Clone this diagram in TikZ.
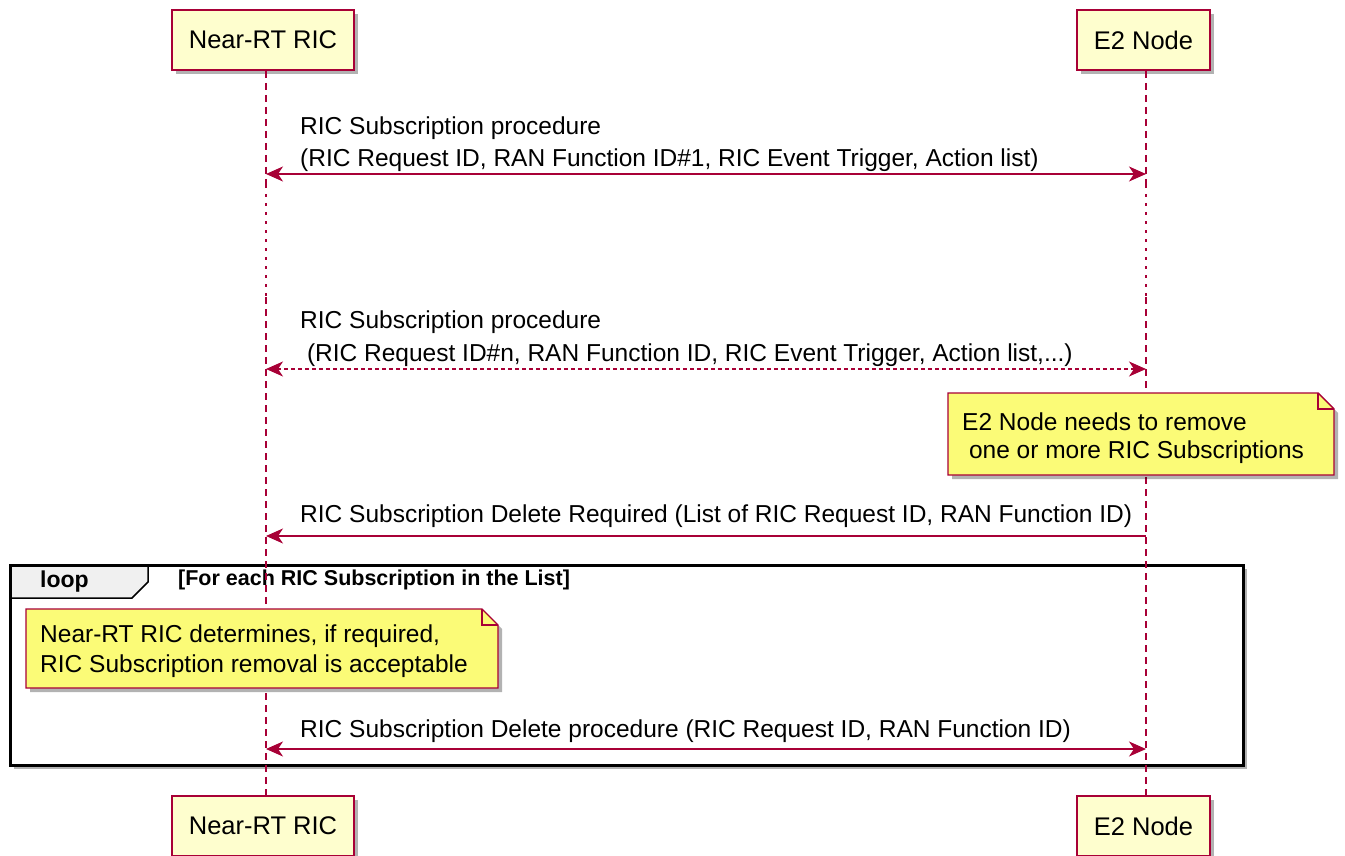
\documentclass[tikz,border=0pt]{standalone}
\usepackage{fontspec}
\setmainfont{Liberation Sans}
\usetikzlibrary{arrows.meta,shadows,calc}
\definecolor{umlred}{HTML}{A80036}
\definecolor{headfill}{HTML}{FEFECE}
\definecolor{notefill}{HTML}{FBFB77}
\begin{document}
\begin{tikzpicture}[x=1pt,y=-1pt,
  font=\fontsize{24.5}{29}\selectfont,
  shad/.style={drop shadow={shadow xshift=4pt,shadow yshift=-4pt,opacity=0.3,fill=black}},
  head/.style={draw=umlred, line width=1.6pt, fill=headfill, inner sep=0pt,
    minimum height=60pt, font=\fontsize{25.5}{30}\selectfont, shad},
  life/.style={draw=umlred, line width=1.6pt, dash pattern=on 7pt off 5pt},
  lifedot/.style={draw=umlred, line width=2.2pt, dash pattern=on 3pt off 6pt},
  msg/.style={draw=umlred, line width=1.7pt},
  tip/.tip={Stealth[length=17pt,width=15pt,inset=5pt]},
  lbl/.style={anchor=west, inner sep=0pt, text=black},
  notebox/.style={draw=umlred, line width=1.4pt, fill=notefill, line join=miter, shad},
  notetxt/.style={anchor=west, inner sep=0pt},
  frame/.style={draw=black, line width=3pt},
]
\useasboundingbox (0,0) rectangle (1345,856);

% participants
\node[head, minimum width=182pt] (hL) at (263,40) {Near-RT RIC};
\node[head, minimum width=133pt] (hR) at (1143.5,40) {E2 Node};
\node[head, minimum width=182pt] (fL) at (263,826) {Near-RT RIC};
\node[head, minimum width=133pt] (fR) at (1143.5,826) {E2 Node};

% loop frame (behind lifelines)
\path[frame, fill=white, shad] (10,565) rectangle (1243,765);
\draw[line width=1.5pt, fill=black!6] (10,565) -- (148,565) -- (148,582) -- (132,598) -- (10,598);
\draw[frame] (10,565) rectangle (1243,765);
\node[anchor=west, inner sep=0pt, font=\fontsize{23}{26}\selectfont\bfseries] (looplbl) at (40,582) {loop};
\node[anchor=west, inner sep=0pt, font=\fontsize{21.5}{24}\selectfont\bfseries] (loopcond) at (178,580) {[For each RIC Subscription in the List]};

% lifelines
\coordinate (L0) at ($(hL.south)+(3,0)$);
\coordinate (R0) at ($(hR.south)+(2.5,0)$);
\coordinate (Ld1) at (L0 |- 0,185);
\coordinate (Ld2) at (L0 |- 0,297);
\coordinate (Rd1) at (R0 |- 0,185);
\coordinate (Rd2) at (R0 |- 0,297);
\coordinate (Lend) at (L0 |- fL.north);
\coordinate (Rend) at (R0 |- fR.north);
\draw[life] (L0) -- (Ld1);
\draw[lifedot] (Ld1) -- (Ld2);
\draw[life] (Ld2) -- (Lend);
\draw[life] (R0) -- (Rd1);
\draw[lifedot] (Rd1) -- (Rd2);
\draw[life] (Rd2) -- (Rend);

% message 1
\coordinate (L1) at (L0 |- 0,174);
\coordinate (R1) at (R0 |- 0,174);
\node[lbl] (m1a) at (300,128) {RIC Subscription procedure};
\node[lbl] (m1b) at (300,160) {(RIC Request ID, RAN Function ID\#1, RIC Event Trigger, Action list)};
\draw[msg, {tip}-{tip}] (L1) -- (R1);

% message 2
\coordinate (L2) at (L0 |- 0,369);
\coordinate (R2) at (R0 |- 0,369);
\node[lbl] (m2a) at (300,322) {RIC Subscription procedure};
\node[lbl] (m2b) at (300,355) {\ (RIC Request ID\#n, RAN Function ID, RIC Event Trigger, Action list,...)};
\draw[msg, dash pattern=on 4pt off 3pt, {tip}-{tip}] (L2) -- (R2);

% note 1
\coordinate (n1a) at (948,393);
\coordinate (n1b) at (1334,475);
\path[notebox] (n1a) -- ($(n1a -| n1b)+(-16,0)$) -- ($(n1a -| n1b)+(0,16)$) -- (n1b) -- (n1a |- n1b) -- cycle;
\draw[umlred, line width=1.4pt, line join=miter] ($(n1a -| n1b)+(-16,0)$) -- ($(n1a -| n1b)+(-16,16)$) -- ($(n1a -| n1b)+(0,16)$);
\node[notetxt] (n1t1) at (962,422) {E2 Node needs to remove};
\node[notetxt] (n1t2) at (962,452) {\ one or more RIC Subscriptions};

% message 3
\coordinate (L3) at (L0 |- 0,536);
\coordinate (R3) at (R0 |- 0,536);
\node[lbl] (m3) at (300,516) {RIC Subscription Delete Required (List of RIC Request ID, RAN Function ID)};
\draw[msg, {tip}-] (L3) -- (R3);

% note 2
\coordinate (n2a) at (26,609);
\coordinate (n2b) at (498,688);
\path[notebox] (n2a) -- ($(n2a -| n2b)+(-16,0)$) -- ($(n2a -| n2b)+(0,16)$) -- (n2b) -- (n2a |- n2b) -- cycle;
\draw[umlred, line width=1.4pt, line join=miter] ($(n2a -| n2b)+(-16,0)$) -- ($(n2a -| n2b)+(-16,16)$) -- ($(n2a -| n2b)+(0,16)$);
\node[notetxt] (n2t1) at (40,636) {Near-RT RIC determines, if required,};
\node[notetxt] (n2t2) at (40,666) {RIC Subscription removal is acceptable};

% message 4
\coordinate (L4) at (L0 |- 0,749);
\coordinate (R4) at (R0 |- 0,749);
\node[lbl] (m4) at (300,731) {RIC Subscription Delete procedure (RIC Request ID, RAN Function ID)};
\draw[msg, {tip}-{tip}] (L4) -- (R4);
\end{tikzpicture}
\end{document}
